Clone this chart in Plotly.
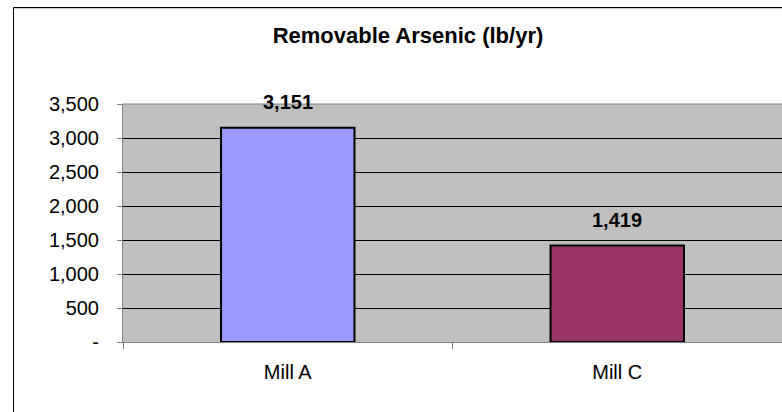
import plotly.graph_objects as go

categories = ["Mill A", "Mill C"]
values = [3151, 1419]
bar_colors = ["#9999FF", "#993366"]
tick_vals = [0, 500, 1000, 1500, 2000, 2500, 3000, 3500]
tick_text = ["-", "500", "1,000", "1,500", "2,000", "2,500", "3,000", "3,500"]
title_text = "Removable Arsenic (lb/yr)"

FONT = "Liberation Sans, Arial, sans-serif"

fig = go.Figure()
fig.add_trace(go.Bar(
    x=categories, y=values,
    marker=dict(color=bar_colors, line=dict(color="black", width=2)),
    width=0.405,
    hoverinfo="skip",
))

for c, v in zip(categories, values):
    fig.add_annotation(
        x=c, y=v, text="<b>{:,}</b>".format(v), showarrow=False,
        yshift=26, font=dict(family=FONT, size=20, color="black"),
    )

L, T, B = 123, 104, 70
W, H = 782, 412
pw = W - L
ph = H - T - B

fig.update_layout(
    width=W, height=H,
    margin=dict(l=L, r=0, t=T, b=B, pad=0),
    paper_bgcolor="white",
    plot_bgcolor="#C0C0C0",
    showlegend=False,
    title=dict(text="<b>" + title_text + "</b>", x=408 / W, xanchor="center",
               y=1 - 35 / H, yanchor="middle",
               font=dict(family=FONT, size=22, color="black")),
    font=dict(family=FONT, size=20, color="black"),
)

fig.update_xaxes(
    type="category",
    showgrid=False,
    showline=True, linecolor="#808080", linewidth=1,
    ticks="outside", ticklen=6, tickcolor="#808080", tickwidth=1,
    tickson="boundaries",
    tickfont=dict(family=FONT, size=20, color="black"),
    ticklabelstandoff=12,
    range=[-0.5, 1.5],
)
fig.update_yaxes(
    range=[0, 3500],
    tickvals=tick_vals, ticktext=tick_text,
    showgrid=True, gridcolor="black", gridwidth=1,
    showline=True, linecolor="#808080", linewidth=1,
    ticks="outside", ticklen=5, tickcolor="#808080", tickwidth=1,
    tickfont=dict(family=FONT, size=20, color="black"),
    ticklabelstandoff=14,
    zeroline=False,
)

# top border of plot area (gray)
fig.add_shape(type="line", xref="paper", yref="paper", x0=0, x1=1, y0=1, y1=1,
              line=dict(color="#808080", width=1), layer="above")
# outer chart border: left and top edges (with faint gray shadow)
fig.add_shape(type="line", xref="paper", yref="paper",
              x0=(14.5 - L) / pw, x1=(W - L) / pw,
              y0=(H - B - 8.5) / ph, y1=(H - B - 8.5) / ph,
              line=dict(color="#C8C8C8", width=1), layer="above")
fig.add_shape(type="line", xref="paper", yref="paper",
              x0=(13.5 - L) / pw, x1=(13.5 - L) / pw,
              y0=(H - B - 7.5) / ph, y1=-B / ph,
              line=dict(color="black", width=1), layer="above")
fig.add_shape(type="line", xref="paper", yref="paper",
              x0=(13.5 - L) / pw, x1=(W - L) / pw,
              y0=(H - B - 7.5) / ph, y1=(H - B - 7.5) / ph,
              line=dict(color="black", width=1), layer="above")

fig.write_html("out.html", config={"displayModeBar": False, "staticPlot": True},
               post_script="document.body.style.margin='0';document.body.style.overflow='hidden';window.scrollTo(0,0);")
